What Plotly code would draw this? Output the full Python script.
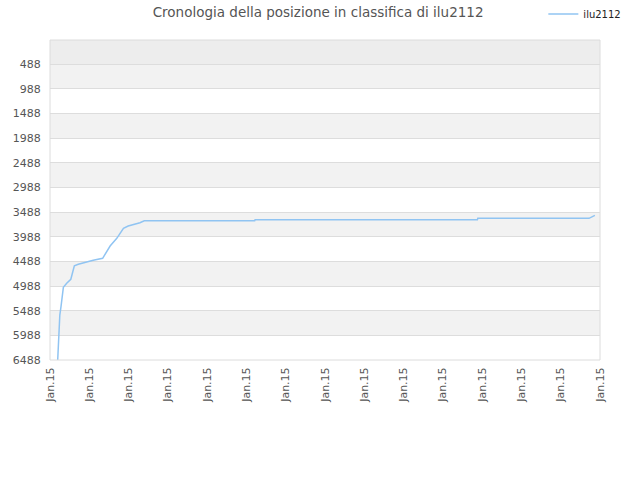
import plotly.graph_objects as go

# x positions expressed in tick-index units (15 ticks, all labelled "Jan.15")
x_vals = [0.196, 0.21, 0.23, 0.25, 0.28, 0.31, 0.34, 0.425, 0.53, 0.58, 0.62, 0.72,
          0.89, 1.10, 1.34, 1.44, 1.53, 1.70, 1.80, 1.87, 1.99, 2.16, 2.29, 2.40,
          5.21, 5.22, 10.88, 10.89, 13.72, 13.87]
positions = [6488, 6251, 5813, 5576, 5408, 5205, 5014, 4933, 4852, 4698, 4577, 4548,
             4508, 4467, 4427, 4279, 4177, 4021, 3887, 3818, 3772, 3737, 3705, 3664,
             3664, 3644, 3644, 3616, 3616, 3555]

x_tick_vals = list(range(15))
x_tick_text = ["Jan.15"] * 15
y_tick_vals = [488, 988, 1488, 1988, 2488, 2988, 3488, 3988, 4488, 4988, 5488, 5988, 6488]
y_top = 0
y_bottom = 6488

fig = go.Figure()
fig.add_trace(go.Scatter(
    x=x_vals, y=positions, mode="lines", name="ilu2112",
    line=dict(color="rgb(144,196,242)", width=1.5),
))

shapes = []
# top band
shapes.append(dict(type="rect", xref="paper", yref="y", x0=0, x1=1, y0=y_top, y1=y_tick_vals[0],
                   fillcolor="#ededed", line=dict(width=0), layer="below"))
for i in range(len(y_tick_vals) - 1):
    color = "#f2f2f2" if i % 2 == 0 else "#ffffff"
    shapes.append(dict(type="rect", xref="paper", yref="y", x0=0, x1=1,
                       y0=y_tick_vals[i], y1=y_tick_vals[i + 1],
                       fillcolor=color, line=dict(width=0), layer="below"))
# border
shapes.append(dict(type="rect", xref="paper", yref="paper", x0=0, x1=1, y0=0, y1=1,
                   line=dict(color="#dcdcdc", width=1), layer="above"))

fig.update_layout(
    width=640, height=480,
    margin=dict(l=50, r=40, t=40, b=120, autoexpand=False),
    paper_bgcolor="white", plot_bgcolor="white",
    font=dict(family="DejaVu Sans", size=11, color="#555555"),
    title=dict(text="Cronologia della posizione in classifica di ilu2112",
               x=0.497, xanchor="center", y=0.975, yanchor="middle",
               font=dict(family="DejaVu Sans", size=13.5, color="#555555")),
    showlegend=True,
    legend=dict(x=0.897, y=1.081, xanchor="left", yanchor="middle",
                bgcolor="rgba(0,0,0,0)", itemwidth=30,
                font=dict(family="DejaVu Sans", size=10, color="#222222")),
    shapes=shapes,
    xaxis=dict(range=[0, 14], tickmode="array", tickvals=x_tick_vals, ticktext=x_tick_text,
               tickangle=-90, showgrid=False, zeroline=False, showline=False,
               ticks="outside", ticklen=2, tickcolor="rgba(0,0,0,0)", automargin=False,
               tickfont=dict(size=11, color="#555555")),
    yaxis=dict(range=[y_bottom, y_top], tickmode="array", tickvals=y_tick_vals,
               showgrid=True, gridcolor="#dddddd", gridwidth=1, zeroline=False, showline=False,
               ticks="outside", ticklen=6, tickcolor="rgba(0,0,0,0)", automargin=False,
               tickfont=dict(size=11, color="#555555")),
)

fig.write_html("out.html",
               config={"displayModeBar": False},
               post_script="document.body.style.margin='0px';document.body.style.overflow='hidden';")
